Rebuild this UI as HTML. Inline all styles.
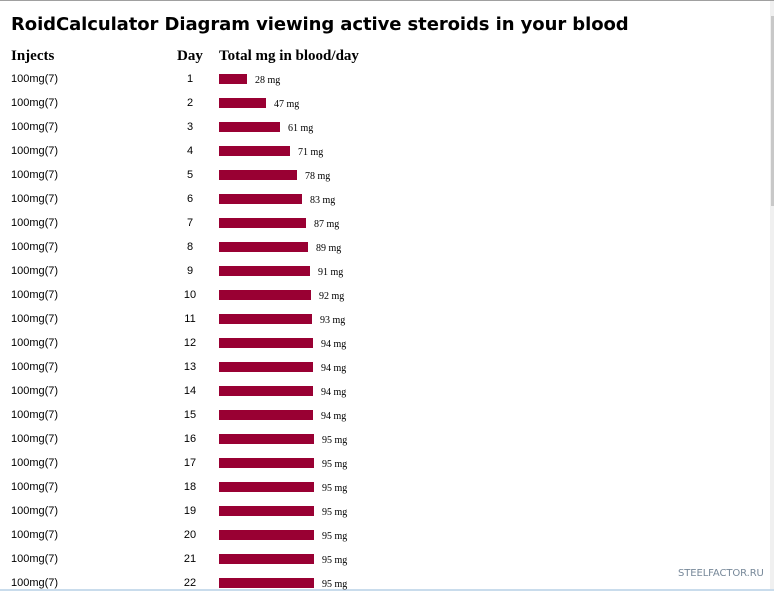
<!DOCTYPE html>
<html><head><meta charset="utf-8"><style>
html,body{margin:0;padding:0;width:774px;height:591px;overflow:hidden;background:#fff;position:relative}
.t{position:absolute;white-space:nowrap}
#title{left:11px;top:14px;font:bold 18px "DejaVu Sans",Verdana,sans-serif;color:#000;letter-spacing:-0.08px}
.h{font:bold 15px "Liberation Serif",serif;color:#000;top:48px}
.inj{left:11px;font:11px "Liberation Sans",Arial,sans-serif;color:#000;line-height:14px;margin-top:2px}
.day{left:177px;width:26px;text-align:center;font:11px "Liberation Sans",Arial,sans-serif;line-height:14px;margin-top:2px}
.bar{position:absolute;left:219px;height:10px;background:#990033}
.lab{font:10px "Liberation Serif",serif;line-height:12px}
</style></head><body>
<div style="position:absolute;left:0;top:0;width:774px;height:1px;background:#a0a0a0"></div>
<div style="position:absolute;left:770px;top:1px;width:4px;height:590px;background:#f0f0f0"></div>
<div style="position:absolute;left:771px;top:16px;width:3px;height:190px;background:#c8c8c8"></div>
<div style="position:absolute;left:0;top:589px;width:774px;height:2px;background:#c9dcec"></div>
<div class="t" id="title">RoidCalculator Diagram viewing active steroids in your blood</div>
<div class="t h" style="left:11px">Injects</div>
<div class="t h" style="left:177px">Day</div>
<div class="t h" style="left:219px">Total mg in blood/day</div>
<div class="t" style="left:678px;top:568px;font:10px 'DejaVu Sans',sans-serif;color:#778899;letter-spacing:-0.1px">STEELFACTOR.RU</div>
<div class="t inj" style="top:70px">100mg(7)</div><div class="t day" style="top:70px">1</div><div class="bar" style="top:74px;width:28px"></div><div class="t lab" style="top:75px;left:255px">28 mg</div>
<div class="t inj" style="top:94px">100mg(7)</div><div class="t day" style="top:94px">2</div><div class="bar" style="top:98px;width:47px"></div><div class="t lab" style="top:99px;left:274px">47 mg</div>
<div class="t inj" style="top:118px">100mg(7)</div><div class="t day" style="top:118px">3</div><div class="bar" style="top:122px;width:61px"></div><div class="t lab" style="top:123px;left:288px">61 mg</div>
<div class="t inj" style="top:142px">100mg(7)</div><div class="t day" style="top:142px">4</div><div class="bar" style="top:146px;width:71px"></div><div class="t lab" style="top:147px;left:298px">71 mg</div>
<div class="t inj" style="top:166px">100mg(7)</div><div class="t day" style="top:166px">5</div><div class="bar" style="top:170px;width:78px"></div><div class="t lab" style="top:171px;left:305px">78 mg</div>
<div class="t inj" style="top:190px">100mg(7)</div><div class="t day" style="top:190px">6</div><div class="bar" style="top:194px;width:83px"></div><div class="t lab" style="top:195px;left:310px">83 mg</div>
<div class="t inj" style="top:214px">100mg(7)</div><div class="t day" style="top:214px">7</div><div class="bar" style="top:218px;width:87px"></div><div class="t lab" style="top:219px;left:314px">87 mg</div>
<div class="t inj" style="top:238px">100mg(7)</div><div class="t day" style="top:238px">8</div><div class="bar" style="top:242px;width:89px"></div><div class="t lab" style="top:243px;left:316px">89 mg</div>
<div class="t inj" style="top:262px">100mg(7)</div><div class="t day" style="top:262px">9</div><div class="bar" style="top:266px;width:91px"></div><div class="t lab" style="top:267px;left:318px">91 mg</div>
<div class="t inj" style="top:286px">100mg(7)</div><div class="t day" style="top:286px">10</div><div class="bar" style="top:290px;width:92px"></div><div class="t lab" style="top:291px;left:319px">92 mg</div>
<div class="t inj" style="top:310px">100mg(7)</div><div class="t day" style="top:310px">11</div><div class="bar" style="top:314px;width:93px"></div><div class="t lab" style="top:315px;left:320px">93 mg</div>
<div class="t inj" style="top:334px">100mg(7)</div><div class="t day" style="top:334px">12</div><div class="bar" style="top:338px;width:94px"></div><div class="t lab" style="top:339px;left:321px">94 mg</div>
<div class="t inj" style="top:358px">100mg(7)</div><div class="t day" style="top:358px">13</div><div class="bar" style="top:362px;width:94px"></div><div class="t lab" style="top:363px;left:321px">94 mg</div>
<div class="t inj" style="top:382px">100mg(7)</div><div class="t day" style="top:382px">14</div><div class="bar" style="top:386px;width:94px"></div><div class="t lab" style="top:387px;left:321px">94 mg</div>
<div class="t inj" style="top:406px">100mg(7)</div><div class="t day" style="top:406px">15</div><div class="bar" style="top:410px;width:94px"></div><div class="t lab" style="top:411px;left:321px">94 mg</div>
<div class="t inj" style="top:430px">100mg(7)</div><div class="t day" style="top:430px">16</div><div class="bar" style="top:434px;width:95px"></div><div class="t lab" style="top:435px;left:322px">95 mg</div>
<div class="t inj" style="top:454px">100mg(7)</div><div class="t day" style="top:454px">17</div><div class="bar" style="top:458px;width:95px"></div><div class="t lab" style="top:459px;left:322px">95 mg</div>
<div class="t inj" style="top:478px">100mg(7)</div><div class="t day" style="top:478px">18</div><div class="bar" style="top:482px;width:95px"></div><div class="t lab" style="top:483px;left:322px">95 mg</div>
<div class="t inj" style="top:502px">100mg(7)</div><div class="t day" style="top:502px">19</div><div class="bar" style="top:506px;width:95px"></div><div class="t lab" style="top:507px;left:322px">95 mg</div>
<div class="t inj" style="top:526px">100mg(7)</div><div class="t day" style="top:526px">20</div><div class="bar" style="top:530px;width:95px"></div><div class="t lab" style="top:531px;left:322px">95 mg</div>
<div class="t inj" style="top:550px">100mg(7)</div><div class="t day" style="top:550px">21</div><div class="bar" style="top:554px;width:95px"></div><div class="t lab" style="top:555px;left:322px">95 mg</div>
<div class="t inj" style="top:574px">100mg(7)</div><div class="t day" style="top:574px">22</div><div class="bar" style="top:578px;width:95px"></div><div class="t lab" style="top:579px;left:322px">95 mg</div>
</body></html>
